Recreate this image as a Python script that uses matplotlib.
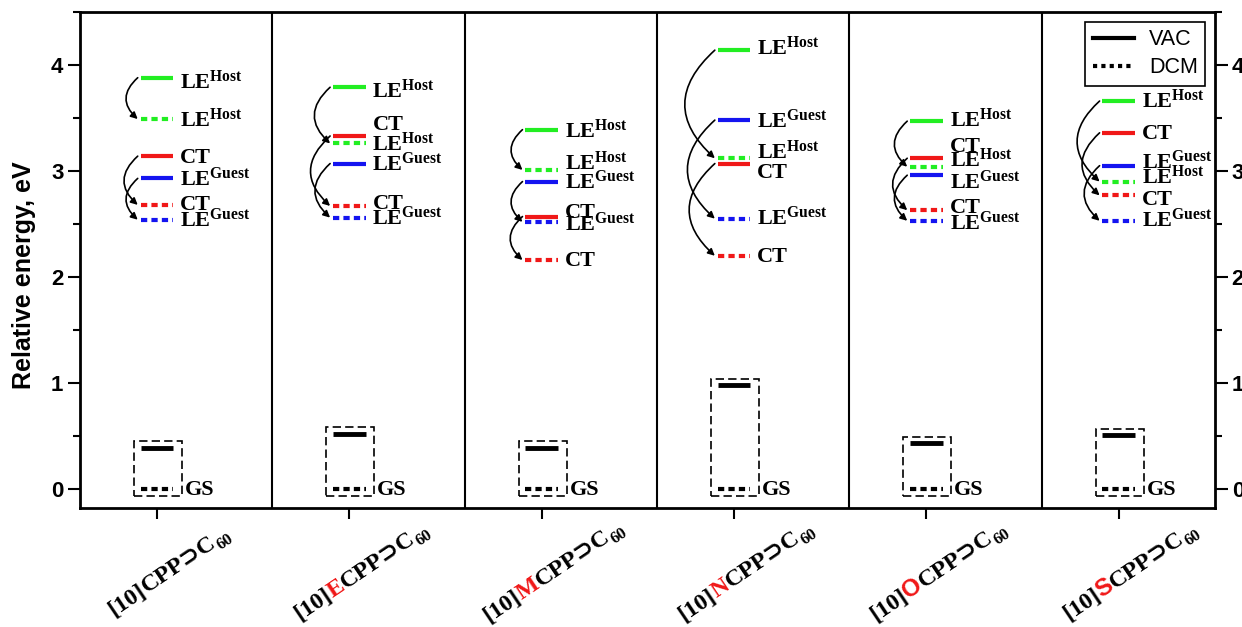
import numpy as np
import matplotlib.pyplot as plt
from matplotlib.patches import FancyArrowPatch, Rectangle
from matplotlib.lines import Line2D
from matplotlib.transforms import offset_copy

plt.rcParams['mathtext.fontset'] = 'custom'
plt.rcParams['mathtext.rm'] = 'Liberation Serif:bold'
plt.rcParams['mathtext.it'] = 'Liberation Serif:bold'
plt.rcParams['mathtext.bf'] = 'Liberation Serif:bold'

# systems on the x axis
xs = np.array([1, 2, 3, 4, 5, 6])
label_pre = '[10]'
label_mark = ['', 'E', 'M', 'N', 'O', 'S']
label_post = 'CPP\u2283C'
label_sub = '60'

# excited state energies (eV), VAC = solid, DCM = dashed
le_host_vac = [3.88, 3.79, 3.39, 4.14, 3.47, 3.66]
le_host_dcm = [3.49, 3.26, 3.01, 3.12, 3.04, 2.90]
ct_vac = [3.14, 3.33, 2.57, 3.07, 3.12, 3.36]
ct_dcm = [2.68, 2.67, 2.16, 2.20, 2.63, 2.77]
le_guest_vac = [2.93, 3.07, 2.90, 3.48, 2.96, 3.05]
le_guest_dcm = [2.54, 2.56, 2.52, 2.55, 2.53, 2.53]
# ground state
gs_vac = [0.39, 0.52, 0.39, 0.98, 0.43, 0.51]
gs_dcm = [0, 0, 0, 0, 0, 0]

# where the level names sit (shifted where levels crowd)
txt_host_vac = [3.83, 3.75, 3.37, 4.15, 3.47, 3.65]
txt_host_dcm = [3.47, 3.25, 3.07, 3.17, 3.10, 2.94]
txt_ct_vac = [3.13, 3.44, 2.61, 2.99, 3.24, 3.36]
txt_ct_dcm = [2.69, 2.70, 2.16, 2.20, 2.66, 2.74]
txt_guest_vac = [2.92, 3.06, 2.89, 3.46, 2.89, 3.08]
txt_guest_dcm = [2.53, 2.55, 2.49, 2.55, 2.50, 2.53]

green = '#22ee22'
red = '#f01818'
blue = '#1414f0'

W, H = 1242, 627
fig = plt.figure(figsize=(W / 100, H / 100), dpi=100)
ax = fig.add_axes([80 / W, 119 / H, 1135 / W, 496 / H])
ax.set_xlim(0.6, 6.5)
ax.set_ylim(-0.18, 4.49)

for s in xs[:-1] + 0.6:
    ax.axvline(s, color='k', lw=1.5)

hw = 0.085
serif = dict(family=['Liberation Serif', 'DejaVu Serif'], weight='bold', fontsize=16)
tr_lab = offset_copy(ax.transData, fig=fig, y=-6, units='dots')

states = [
    (le_host_vac, le_host_dcm, green, r'LE$^{Host}$', txt_host_vac, txt_host_dcm),
    (ct_vac, ct_dcm, red, 'CT', txt_ct_vac, txt_ct_dcm),
    (le_guest_vac, le_guest_dcm, blue, r'LE$^{Guest}$', txt_guest_vac, txt_guest_dcm),
]
for vac, dcm, col, name, tv, td in states:
    for i, x in enumerate(xs):
        ax.plot([x - hw, x + hw], [vac[i], vac[i]], color=col, lw=3, solid_capstyle='butt')
        ax.plot([x - hw, x + hw], [dcm[i], dcm[i]], color=col, lw=3, ls=(0, (1.5, 1)))
        ax.text(x + 0.12, tv[i], name, transform=tr_lab, va='baseline', **serif)
        ax.text(x + 0.12, td[i], name, transform=tr_lab, va='baseline', **serif)
        arr = FancyArrowPatch((x - 0.10, vac[i]), (x - 0.10, dcm[i]),
                              connectionstyle='arc3,rad=0.55', arrowstyle='-|>',
                              mutation_scale=10, lw=1.2, color='k',
                              shrinkA=0, shrinkB=0)
        ax.add_patch(arr)

# ground state
for i, x in enumerate(xs):
    ax.plot([x - hw, x + hw], [gs_vac[i], gs_vac[i]], color='k', lw=3.5, solid_capstyle='butt')
    ax.plot([x - hw, x + hw], [gs_dcm[i], gs_dcm[i]], color='k', lw=3, ls=(0, (1.5, 1)))
    box = Rectangle((x - 0.12, -0.07), 0.25, gs_vac[i] + 0.13, fill=False,
                    ec='k', lw=1.2, ls=(0, (5, 2.5)))
    ax.add_patch(box)
    ax.text(x + 0.145, gs_dcm[i], 'GS', transform=tr_lab, va='baseline', **serif)

# axes styling
for sp in ax.spines.values():
    sp.set_linewidth(2)
ax.set_xticks(xs)
ax.set_xticklabels([])
ax.set_yticks([0, 1, 2, 3, 4])
ax.set_yticks(np.arange(0, 4.6, 0.5), minor=True)
ax.tick_params(axis='x', direction='out', length=8, width=1.5)
ax.tick_params(axis='y', which='major', direction='out', length=9, width=1.5,
               right=True, labelright=True, labelsize=16, pad=3)
ax.tick_params(axis='y', which='minor', direction='out', length=5, width=1.5, right=True)
for t in ax.get_yticklabels():
    t.set_fontfamily('Liberation Sans')
    t.set_fontweight('bold')
ax.set_ylabel('Relative energy, eV', fontsize=18, fontweight='bold', family='Liberation Sans')
ax.yaxis.set_label_coords(-0.039, 0.47)

handles = [Line2D([], [], color='k', lw=3),
           Line2D([], [], color='k', lw=3, ls=(0, (1, 1)))]
leg = ax.legend(handles, ['VAC', 'DCM'], loc='upper right', fancybox=False,
                edgecolor='k', framealpha=1, borderaxespad=0.45, handlelength=1.9,
                borderpad=0.35, labelspacing=0.32, handletextpad=0.7,
                prop=dict(family='Liberation Sans', size=15.5))
leg.get_frame().set_linewidth(1.2)

# x tick labels: rotated, with the red heteroatom letter
fig.canvas.draw()
r = fig.canvas.get_renderer()
rot = 34
ang = np.deg2rad(rot)
lab_size = 17.5
em = lab_size * 100 / 72
ux, uy = np.cos(ang), np.sin(ang)      # along the baseline
nx, ny = -np.sin(ang), np.cos(ang)     # perpendicular, up
for i, x in enumerate(xs):
    mark_fam = 'Liberation Sans' if label_mark[i] in ('O', 'S') else 'Liberation Serif'
    # text, colour, family, size factor, baseline shift (in em)
    parts = [(label_pre, 'k', 'Liberation Serif', 1.0, 0.0),
             (label_mark[i], red, mark_fam, 1.0, 0.0),
             (label_post, 'k', 'Liberation Serif', 1.0, 0.0),
             (label_sub, 'k', 'Liberation Serif', 0.68, -0.22)]
    widths = []
    for s, c, fam, k, sh in parts:
        if not s:
            widths.append(0)
            continue
        t = fig.text(0, 0, s, fontsize=lab_size * k, weight='bold',
                     family=[fam, 'DejaVu Sans'])
        widths.append(t.get_window_extent(r).width)
        t.remove()
    total = sum(widths)
    tx, ty = ax.transData.transform((x, -0.18))
    cx, cy = tx + 11, ty - 62
    bx = cx - total / 2 * ux - 0.3 * em * nx
    by = cy - total / 2 * uy - 0.3 * em * ny
    acc = 0
    for (s, c, fam, k, sh), w in zip(parts, widths):
        if s:
            px = bx + acc * ux + sh * em * nx
            py = by + acc * uy + sh * em * ny
            fig.text(px / W, py / H, s, fontsize=lab_size * k, weight='bold', color=c,
                     family=[fam, 'DejaVu Sans'], rotation=rot, rotation_mode='anchor',
                     ha='left', va='baseline')
        acc += w

fig.savefig('out.png', dpi=100)
